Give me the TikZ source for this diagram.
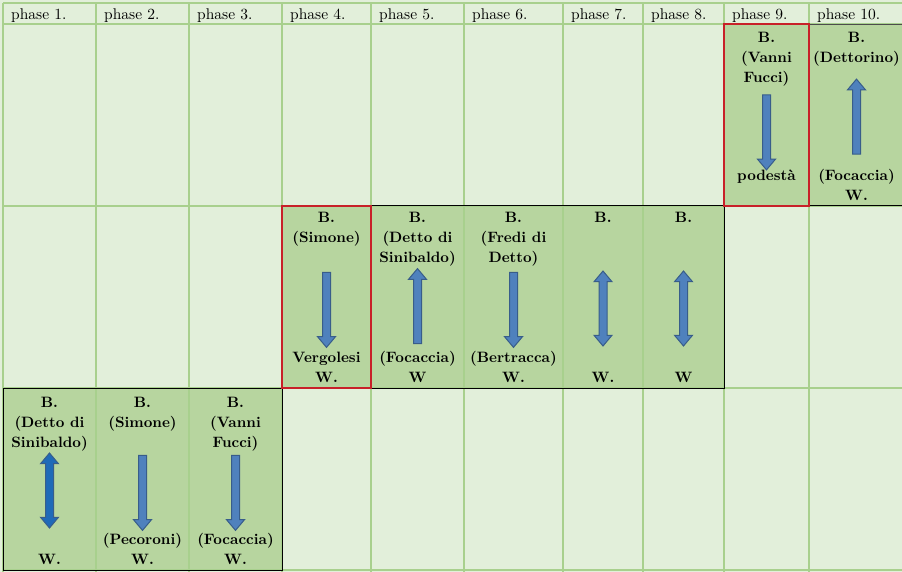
\documentclass[tikz,border=0pt]{standalone}
\usepackage{fontspec}
\setmainfont{lmroman10}[Extension=.otf, UprightFont=*-regular, BoldFont=*-bold, ItalicFont=*-italic]
\usepackage{xcolor}
\usepackage{tikz}
\usetikzlibrary{shapes,arrows,positioning,calc}
\definecolor{cellLight}{RGB}{226,239,218}
\definecolor{cellDark}{RGB}{183,213,159}
\definecolor{gridGreen}{RGB}{168,208,141}
\definecolor{markRed}{RGB}{200,32,40}
\definecolor{arrowBlue}{RGB}{79,129,189}
\definecolor{arrowEdge}{RGB}{56,93,138}
\definecolor{arrowDeep}{RGB}{31,106,184}
\begin{document}
\begin{tikzpicture}[x=1pt, y=-1pt,
    phase/.style={anchor=base west, inner sep=0pt, font=\fontsize{15.5}{20}\selectfont},
    toplabel/.style={anchor=north, align=center, inner sep=0pt, font=\fontsize{15}{20}\selectfont\bfseries},
    botlabel/.style={anchor=south, align=center, inner sep=0pt, font=\fontsize{15}{20}\selectfont\bfseries},
    downarrow/.style={single arrow, shape border rotate=270, draw=arrowEdge, fill=arrowBlue, line width=1pt, inner sep=3.5pt, single arrow head extend=5pt, single arrow tip angle=80, minimum height=75pt},
    uparrow/.style={downarrow, shape border rotate=90},
    botharrow/.style={double arrow, shape border rotate=90, draw=arrowEdge, fill=arrowBlue, line width=1pt, inner sep=3.5pt, double arrow head extend=5pt, double arrow tip angle=80, minimum height=75pt}]
    \useasboundingbox (0,0) rectangle (902,572);
    \fill [cellLight] (0,0) rectangle (902,572);
    \fill [cellDark] (724,24) rectangle (904,206);
    \fill [cellDark] (282,206) rectangle (724,388);
    \fill [cellDark] (3,388) rectangle (282,570);
    \foreach \x in {3,96,189,282,371,464,563,643,724,809}
        \draw [gridGreen, line width=2pt] (\x,3) -- (\x,572);
    \foreach \y in {3,24,206,388,570}
        \draw [gridGreen, line width=2pt] (3,\y) -- (904,\y);
    \draw [line width=1pt] (282,206) rectangle (724,388);
    \draw [line width=1pt] (3,388) rectangle (282,570);
    \draw [line width=0.8pt, black!70] (809,24) -- (904,24);
    \draw [line width=1pt] (809,206) -- (904,206);
    \draw [markRed, line width=2pt] (724,24) rectangle (809,206);
    \draw [markRed, line width=2pt] (282,206) rectangle (371,388);

    \node [phase] (Ph1) at (11,19.5) {phase 1.};
    \node [phase] (Ph2) at (104,19.5) {phase 2.};
    \node [phase] (Ph3) at (197,19.5) {phase 3.};
    \node [phase] (Ph4) at (290,19.5) {phase 4.};
    \node [phase] (Ph5) at (379,19.5) {phase 5.};
    \node [phase] (Ph6) at (472,19.5) {phase 6.};
    \node [phase] (Ph7) at (571,19.5) {phase 7.};
    \node [phase] (Ph8) at (651,19.5) {phase 8.};
    \node [phase] (Ph9) at (732,19.5) {phase 9.};
    \node [phase] (Ph10) at (817,19.5) {phase 10.};

    \node [toplabel] (Top1) at (49.5,397) {B.\\(Detto di\\Sinibaldo)};
    \node [botlabel] (Bot1) at (49.5,565) {W.};
    \node [botharrow, fill=arrowDeep] (Arr1) at (49.5,490.5) {};
    \node [toplabel] (Top2) at (142.5,397) {B.\\(Simone)};
    \node [botlabel] (Bot2) at (142.5,565) {(Pecoroni)\\W.};
    \node [downarrow] (Arr2) at (142.5,490.5) {};
    \node [toplabel] (Top3) at (235.5,397) {B.\\(Vanni\\Fucci)};
    \node [botlabel] (Bot3) at (235.5,565) {(Focaccia)\\W.};
    \node [downarrow] (Arr3) at (235.5,490.5) {};

    \node [toplabel] (Top4) at (326.5,212) {B.\\(Simone)};
    \node [botlabel] (Bot4) at (326.5,383) {Vergolesi\\W.};
    \node [downarrow] (Arr4) at (326.5,307.5) {};
    \node [toplabel] (Top5) at (417.5,212) {B.\\(Detto di\\Sinibaldo)};
    \node [botlabel] (Bot5) at (417.5,383) {(Focaccia)\\W};
    \node [uparrow] (Arr5) at (417.5,308.5) {};
    \node [toplabel] (Top6) at (513.5,212) {B.\\(Fredi di\\Detto)};
    \node [botlabel] (Bot6) at (513.5,383) {(Bertracca)\\W.};
    \node [downarrow] (Arr6) at (513.5,307.5) {};
    \node [toplabel] (Top7) at (603,212) {B.};
    \node [botlabel] (Bot7) at (603,383) {W.};
    \node [botharrow] (Arr7) at (603,308.5) {};
    \node [toplabel] (Top8) at (683.5,212) {B.};
    \node [botlabel] (Bot8) at (683.5,383) {W};
    \node [botharrow] (Arr8) at (683.5,308.5) {};

    \node [toplabel] (Top9) at (766.5,32) {B.\\(Vanni\\Fucci)};
    \node [botlabel] (Bot9) at (766.5,201) {podestà\\~};
    \node [downarrow] (Arr9) at (766.5,130) {};
    \node [toplabel] (Top10) at (856.5,32) {B.\\(Dettorino)};
    \node [botlabel] (Bot10) at (856.5,201) {(Focaccia)\\W.};
    \node [uparrow] (Arr10) at (856.5,119) {};
\end{tikzpicture}
\end{document}
